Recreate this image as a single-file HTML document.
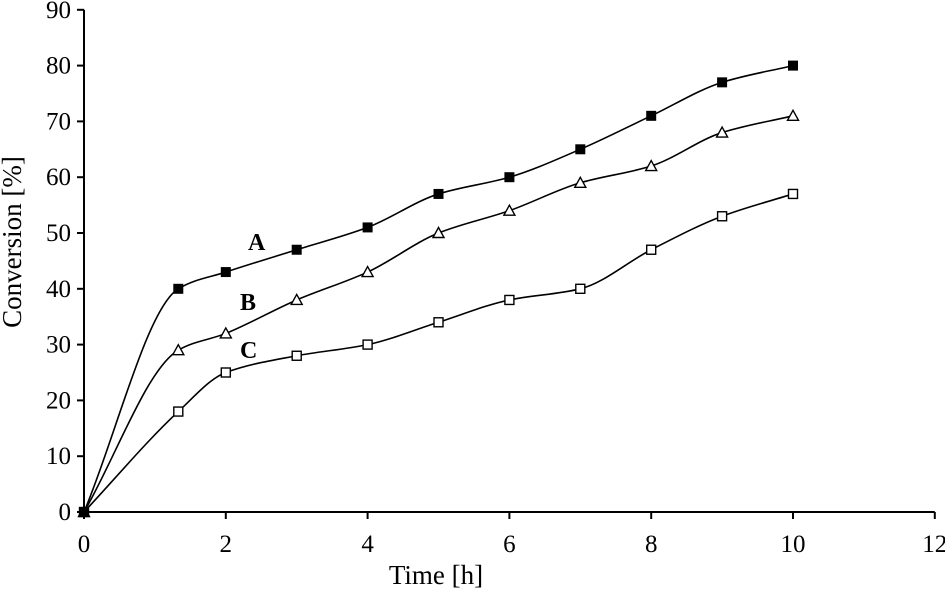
<!DOCTYPE html>
<html><head><meta charset="utf-8"><style>
body{margin:0;background:#fff}
svg{display:block;font-family:"Liberation Serif",serif}
</style></head><body>
<svg id="chart" width="945" height="594"></svg>
<script>
const xTicks=[0,2,4,6,8,10,12];
const yTicks=[0,10,20,30,40,50,60,70,80,90];
const timeA=[0,1.33,2,3,4,5,6,7,8,9,10];
const seriesA=[0,40,43,47,51,57,60,65,71,77,80];
const seriesB=[0,29,32,38,43,50,54,59,62,68,71];
const seriesC=[0,18,25,28,30,34,38,40,47,53,57];
const NS='http://www.w3.org/2000/svg';
const svg=document.getElementById('chart');
const X0=84,XS=70.9,Y0=512,YS=5.58;
const sx=v=>X0+v*XS, sy=v=>Y0-v*YS;
function mk(t,a,p){const e=document.createElementNS(NS,t);for(const k in a)e.setAttribute(k,a[k]);(p||svg).appendChild(e);return e;}
const ax=mk('line',{x1:sx(0),y1:Y0,x2:sx(12),y2:Y0,stroke:'#000','stroke-width':2});


const ay=mk('line',{x1:X0,y1:Y0,x2:X0,y2:sy(90),stroke:'#000','stroke-width':2});


xTicks.forEach(v=>{
 mk('line',{x1:sx(v),y1:Y0,x2:sx(v),y2:Y0+7,stroke:'#000','stroke-width':2});
 const t=mk('text',{x:sx(v),y:Y0+40,'text-anchor':'middle','font-size':25});t.textContent=v;
 
 
});
yTicks.forEach(v=>{
 mk('line',{x1:X0-7,y1:sy(v),x2:X0,y2:sy(v),stroke:'#000','stroke-width':2});
 const t=mk('text',{x:X0-13,y:sy(v)+8,'text-anchor':'end','font-size':25});t.textContent=v;
 
 
});
const xt=mk('text',{x:436,y:584,'text-anchor':'middle','font-size':27});xt.textContent='Time [h]';


const yt=mk('text',{x:0,y:0,'text-anchor':'middle','font-size':27,transform:'translate(21,242) rotate(-90)'});yt.textContent='Conversion [%]';


function curve(xs,ys){
 const p=xs.map((x,i)=>[sx(x),sy(ys[i])]);
 const n=p.length,m=[];
 const d0=[];for(let i=0;i<n-1;i++)d0.push((p[i+1][1]-p[i][1])/(p[i+1][0]-p[i][0]));
 for(let i=0;i<n;i++){
  if(i===0)m.push(d0[0]);else if(i===n-1)m.push(d0[n-2]);
  else{const a=d0[i-1],b=d0[i];m.push(a*b<=0?0:2/(1/a+1/b));}
 }
 let d='M'+p[0][0]+','+p[0][1];
 for(let i=0;i<n-1;i++){
  const h=(p[i+1][0]-p[i][0])/3;
  d+=' C'+(p[i][0]+h)+','+(p[i][1]+m[i]*h)+' '+(p[i+1][0]-h)+','+(p[i+1][1]-m[i+1]*h)+' '+p[i+1][0]+','+p[i+1][1];
 }
 return d;
}
function series(ys,name,marker){
 const g=mk('g',{});
 
 
 mk('path',{d:curve(timeA,ys),fill:'none',stroke:'#000','stroke-width':1.6},g);
 ys.forEach((y,i)=>{
  const cx=sx(timeA[i]),cy=sy(y);let m;
  if(marker==='fsq')m=mk('rect',{x:cx-5,y:cy-5,width:10,height:10,fill:'#000'},g);
  else if(marker==='osq')m=mk('rect',{x:cx-4.5,y:cy-4.5,width:9,height:9,fill:'#fff',stroke:'#000','stroke-width':1.4},g);
  else m=mk('polygon',{points:`${cx},${cy-5.5} ${cx+5.5},${cy+4.5} ${cx-5.5},${cy+4.5}`,fill:'#fff',stroke:'#000','stroke-width':1.4},g);
  
  
 });
}
series(seriesC,'series-c','osq');
series(seriesB,'series-b','tri');
series(seriesA,'series-a','fsq');
[['A',248,250],['B',240,310],['C',240,358]].forEach(([s,x,y])=>{
 const t=mk('text',{x,y,'font-size':24,'font-weight':'bold'});t.textContent=s;
 
 
});
</script>
</body></html>
